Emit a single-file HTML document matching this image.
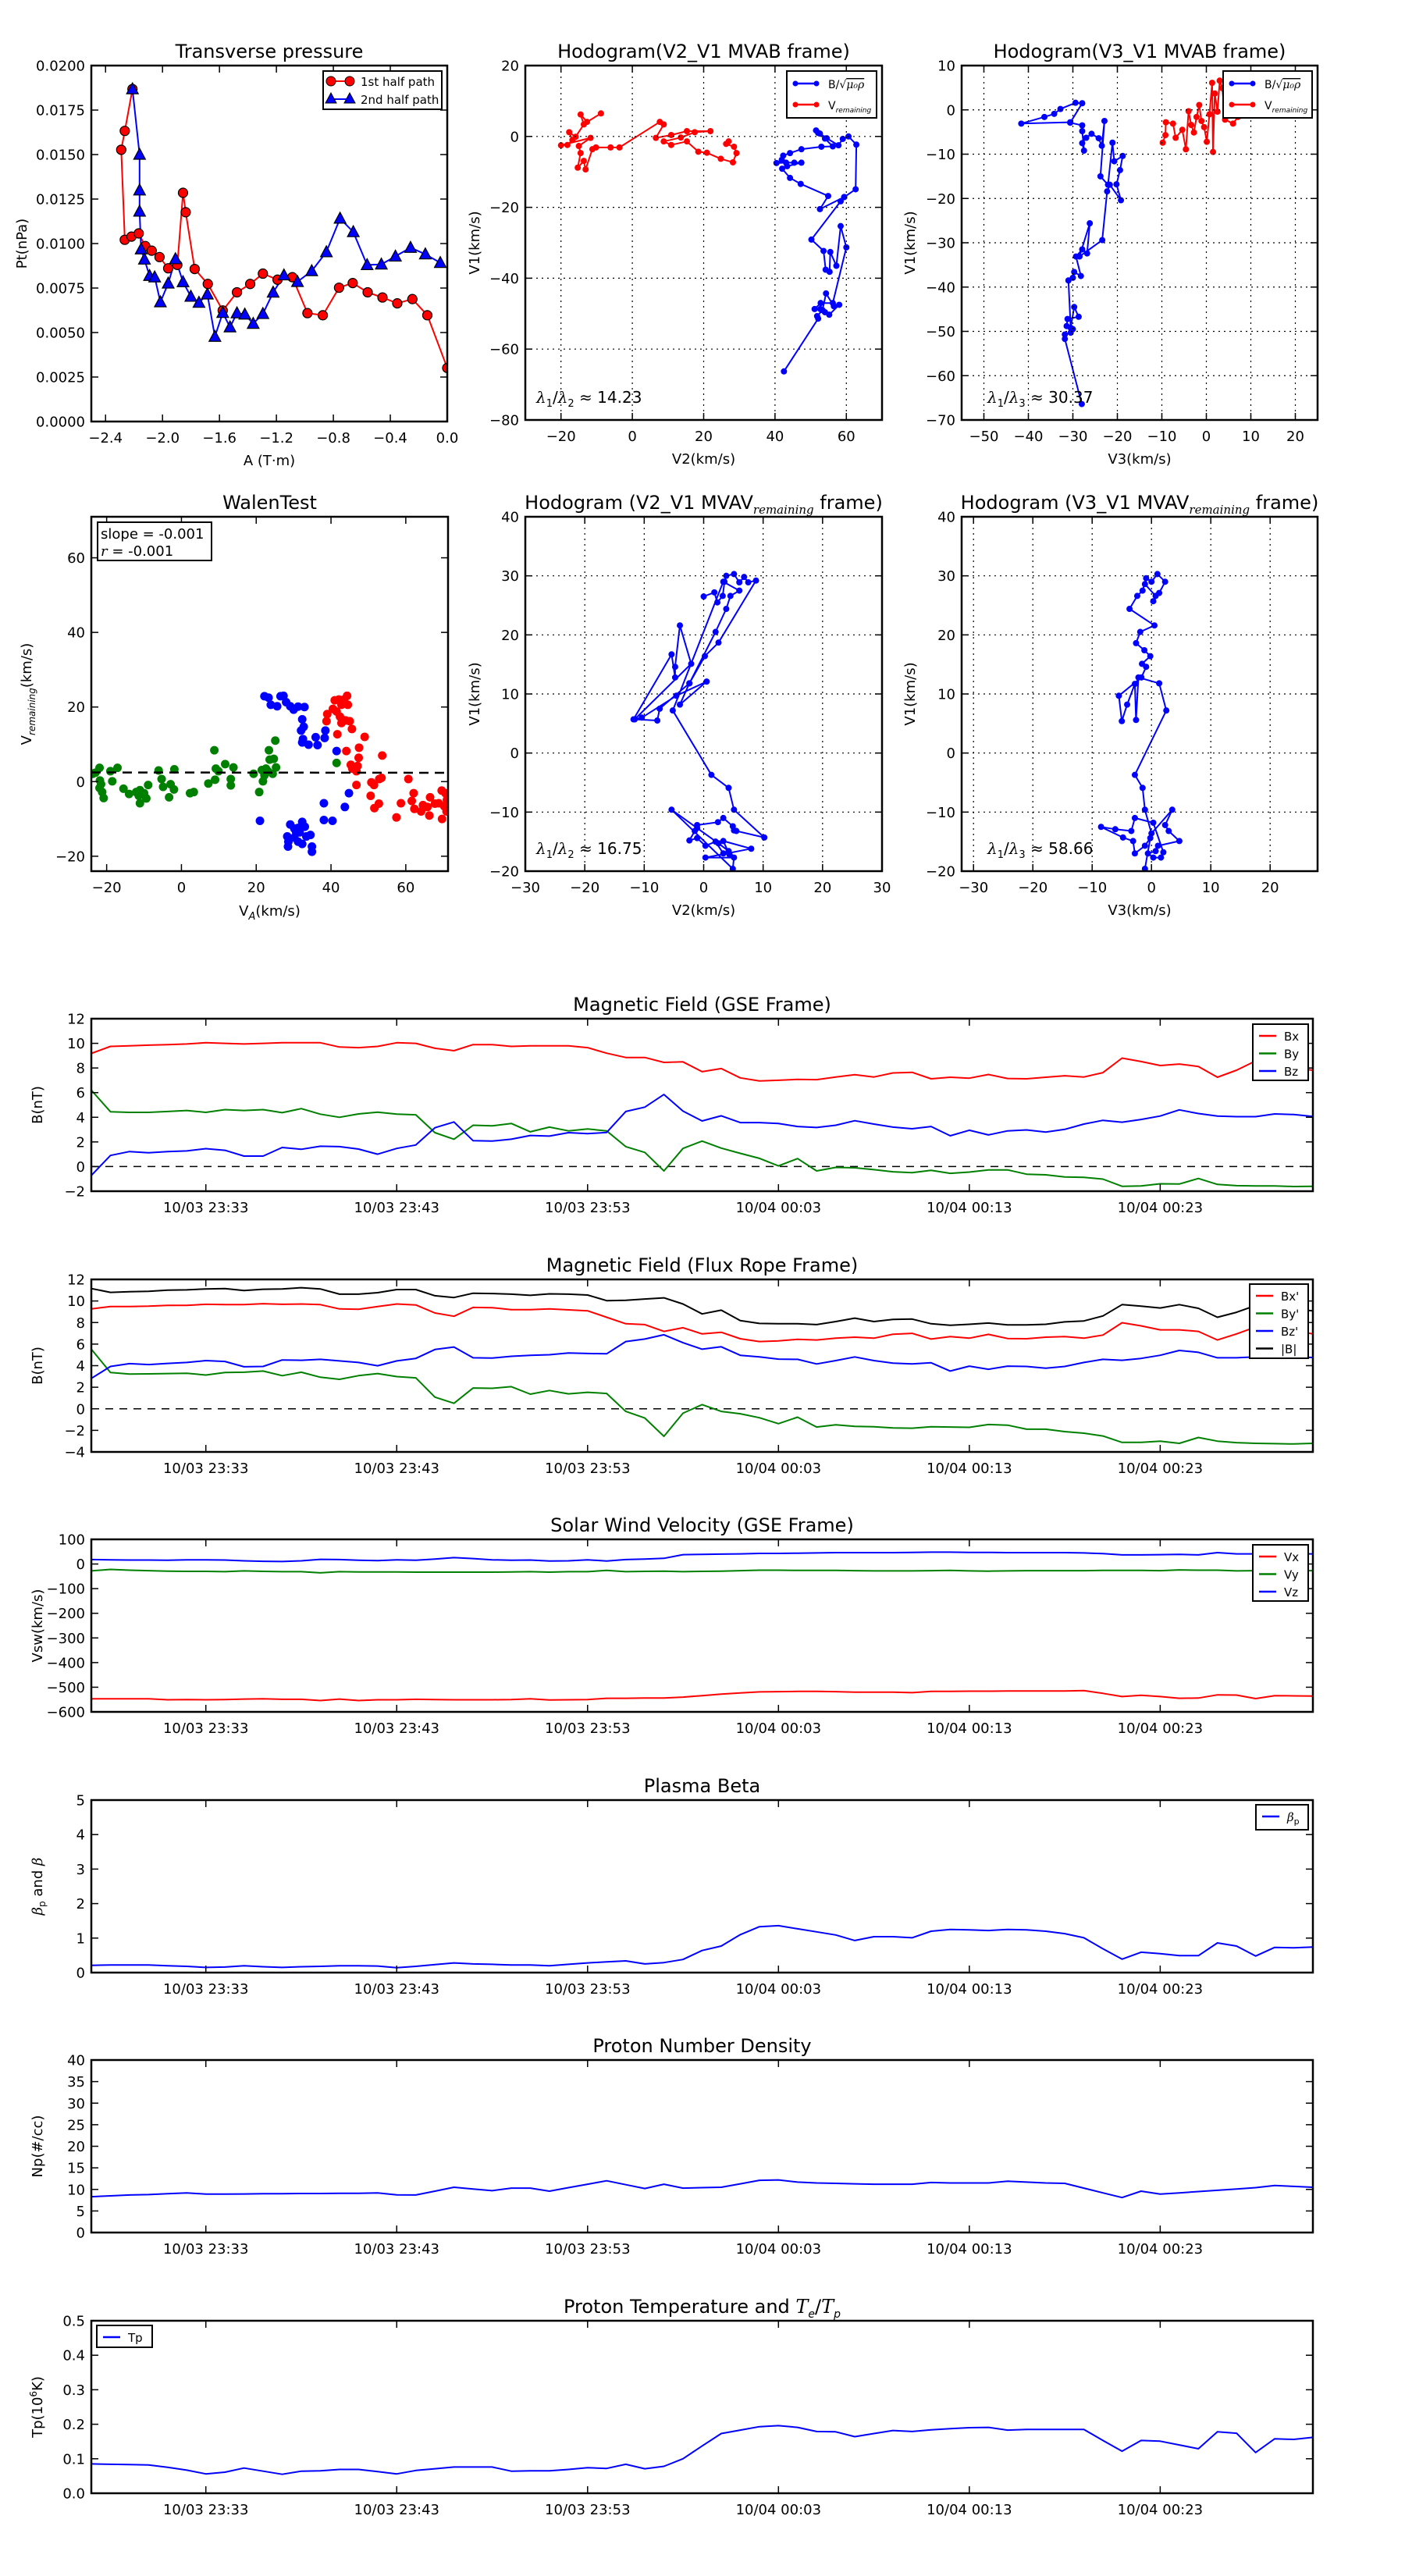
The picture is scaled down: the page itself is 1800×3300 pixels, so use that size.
<!DOCTYPE html>
<html><head><meta charset="utf-8"><title>Flux rope analysis</title>
<style>html,body{margin:0;padding:0;background:#fff}svg{display:block;font-family:"DejaVu Sans","Liberation Sans",sans-serif}</style>
</head><body>
<svg id="fig" xmlns="http://www.w3.org/2000/svg" width="1800" height="3300" viewBox="0 0 1800 3300">
<rect width="1800" height="3300" fill="#fff"/>
</svg>
<script>
// ---------- Transverse pressure ----------
const ptRedA=[-2.211,-2.265,-2.29,-2.265,-2.218,-2.167,-2.121,-2.076,-2.021,-1.960,-1.896,-1.856,-1.837,-1.774,-1.682,-1.577,-1.477,-1.384,-1.295,-1.192,-1.088,-0.982,-0.874,-0.760,-0.664,-0.559,-0.455,-0.351,-0.245,-0.140,0];
const ptRedP=[0.01868,0.01633,0.01527,0.01021,0.01039,0.01057,0.00986,0.0096,0.00924,0.00861,0.0088,0.01285,0.01176,0.00857,0.00773,0.00624,0.00726,0.00773,0.00831,0.00797,0.00811,0.00609,0.00597,0.00752,0.00778,0.00726,0.00697,0.00664,0.00688,0.00597,0.00301];
const ptBlueA=[-2.211,-2.161,-2.161,-2.161,-2.150,-2.127,-2.091,-2.055,-2.015,-1.960,-1.909,-1.856,-1.801,-1.744,-1.685,-1.632,-1.577,-1.526,-1.477,-1.422,-1.363,-1.295,-1.223,-1.147,-1.052,-0.952,-0.849,-0.753,-0.660,-0.563,-0.463,-0.364,-0.258,-0.154,-0.049];
const ptBlueP=[0.01868,0.0150,0.01299,0.0118,0.00968,0.00911,0.00819,0.00811,0.00671,0.00776,0.00913,0.00784,0.00702,0.00668,0.00715,0.00477,0.00611,0.0053,0.00609,0.00602,0.0055,0.00605,0.00725,0.00822,0.00785,0.00846,0.00952,0.01141,0.01065,0.0088,0.00883,0.00928,0.00977,0.0094,0.00892];
// ---------- Hodogram V2_V1 MVAB ----------
const h1BlueX=[42.5,52.1,51.8,53.3,54.3,56.5,58.0,55.2,54.0,52.7,51.1,52.8,56.2,60.0,58.4,57.2,55.5,55.3,54.2,53.6,50.2,58.4,59.4,62.6,62.8,60.6,59.0,57.8,54.5,52.6,51.5,52.1,54.0,56.2,53.0,47.4,44.2,42.3,41.9,40.4,43.1,45.4,47.4,43.4,42.0,44.2,47.2,54.9,52.6,59.4];
const h1BlueY=[-66.3,-51.4,-50.7,-49.0,-44.3,-47.9,-47.5,-50.3,-49.6,-48.7,-48.7,-47.0,-47.0,-31.3,-25.3,-36.5,-32.6,-38.2,-37.6,-32.3,-29.1,-18.3,-17.1,-14.9,-2.3,0,-0.7,-2.5,-0.5,0.8,1.7,1.0,-0.6,-2.8,-2.9,-3.6,-4.7,-5.4,-6.6,-7.5,-7.4,-7.4,-7.4,-8.4,-9.1,-11.7,-13.4,-16.8,-20.5,-17.1];
const h1RedX=[-8.8,-12.7,-14.5,-13.6,-15.9,-17.7,-16.8,-18.2,-20.0,-11.7,-15.0,-14.5,-15.3,-13.6,-13.1,-11.2,-10.2,-6.1,-3.6,7.7,8.8,6.6,10.9,15.3,21.9,17.5,13.6,8.8,10.9,15.3,18.5,20.9,24.8,28.2,29.2,28.5,26.3,27.0];
const h1RedY=[6.5,4.1,6.2,3.4,-0.1,1.2,-1.0,-2.4,-2.5,-0.4,-2.7,-4.7,-8.8,-6.9,-9.3,-3.6,-3.1,-3.1,-3.1,4.1,3.4,-0.4,0.4,1.5,1.5,1.2,-0.3,-1.4,-2.4,-1.4,-4.3,-4.6,-6.3,-7.3,-4.7,-2.9,-2.1,-1.4];
// ---------- Hodogram V3_V1 MVAB ----------
const h2BlueX=[-28.0,-31.8,-31.8,-30.5,-30.0,-31.4,-31.2,-28.7,-29.7,-30.5,-31.0,-30.0,-29.7,-28.2,-29.3,-27.9,-26.8,-26.2,-28.5,-23.4,-22.3,-21.7,-19.2,-20.2,-19.4,-18.8,-20.7,-21.1,-22.1,-23.8,-22.9,-23.5,-24.2,-25.8,-27.0,-27.9,-27.5,-27.9,-27.9,-30.6,-27.9,-29.4,-32.8,-34.2,-36.4,-41.6,-30.6];
const h2BlueY=[-66.4,-51.7,-50.7,-50.3,-49.5,-48.8,-47.2,-46.7,-44.5,-49.2,-38.5,-37.9,-36.6,-37.5,-33.1,-31.5,-32.4,-25.6,-33.1,-29.4,-18.4,-16.9,-20.4,-16.8,-13.6,-10.4,-11.6,-7.4,-16.9,-15.0,-2.5,-8.1,-6.4,-5.4,-6.3,-7.5,-9.2,-4.8,-3.5,-2.9,1.5,1.6,0.2,-0.9,-1.6,-3.1,-2.8];
const h2RedX=[-9.8,-9.2,-9.1,-7.5,-6.9,-5.4,-4.6,-4.0,-3.4,-2.8,-2.2,-1.6,-1.1,-0.5,0.1,0.7,1.3,1.5,1.9,2.5,3.0,3.6,4.2,6.0,7.1];
const h2RedY=[-7.4,-5.7,-2.8,-3.1,-6.3,-4.5,-8.9,-0.3,-3.4,-5.1,-1.6,1.1,-2.5,-3.9,-7.2,-1.0,6.1,-9.5,3.7,-0.4,6.6,4.9,-2.2,-3.1,-1.6];
// ---------- Walen test ----------
const wGreenX=[-23.7,-23.0,-21.9,-21.8,-21.5,-21.9,-21.2,-20.8,-19.0,-18.5,-17.1,-15.5,-14.0,-12.1,-11.4,-11.1,-11.1,-10.0,-9.4,-8.9,-6.1,-5.3,-4.9,-3.3,-2.9,-2.0,-1.9,2.3,3.3,7.2,8.8,9.0,9.2,9.9,11.7,13.2,13.2,13.9,19.3,20.8,21.5,21.8,22.2,22.6,23.1,23.4,23.6,24.4,24.7,25.3,25.1,41.5];
const wGreenY=[2.1,2.4,3.7,0.3,-0.7,-1.7,-2.8,-4.4,2.8,0.1,3.7,-1.9,-3.3,-2.8,-3.8,-2.3,-5.8,-3.1,-4.5,-0.9,3.0,0.7,-1.4,-4.2,-0.7,-2.1,3.3,-3.1,-2.8,-0.5,8.4,0.5,3.5,2.8,4.7,0.7,-1.0,3.8,2.1,-2.8,3.1,0.1,1.7,3.5,2.8,8.4,5.9,2.1,6.1,3.8,11.0,5.0];
const wBlueX=[22.2,23.3,23.9,25.6,26.5,27.3,28.0,29.1,30.0,31.2,32.9,32.3,32.7,32.0,32.5,32.3,34.0,35.9,36.4,38.3,38.5,41.5,44.8,38.1,43.7,38.1,40.4,21.0,29.1,30.2,31.2,32.3,33.0,28.3,28.6,28.5,30.2,31.2,32.3,33.4,34.5,34.9,34.9,31.6,30.7];
const wBlueY=[22.9,22.5,20.6,20.2,22.9,23.0,21.3,20.2,19.3,20.1,20.0,16.7,14.7,13.7,11.4,10.5,9.9,11.9,9.8,11.7,13.7,8.2,-3.1,-5.8,-6.8,-10.3,-10.5,-10.5,-11.5,-12.6,-12.4,-10.8,-12.1,-14.7,-16.1,-17.4,-15.0,-16.1,-16.7,-14.7,-14.3,-17.4,-18.8,-13.6,-13.6];
const wRedX=[38.8,39.0,41.0,42.1,42.8,43.5,44.3,44.5,40.5,41.5,42.4,42.8,43.9,45.0,45.6,41.7,49.0,47.5,44.1,47.4,45.3,45.7,47.1,46.8,53.7,50.8,51.5,46.8,52.9,53.5,50.6,51.6,52.8,57.5,58.7,60.7,62.1,61.6,62.3,64.1,64.6,65.8,66.3,66.5,67.8,68.8,69.6,69.7,70.3,70.6,70.9,71.0];
const wRedY=[16.2,18.1,21.8,22.0,20.6,22.0,23.0,20.6,19.5,18.8,17.4,15.7,16.4,16.2,14.1,12.7,12.0,9.1,8.2,6.4,4.5,3.5,4.2,2.8,7.0,-0.2,-0.9,-0.9,0.7,1.0,-3.8,-7.1,-5.9,-9.6,-5.8,0.7,-3.1,-5.2,-7.3,-8.0,-6.3,-6.8,-9.1,-4.2,-5.9,-5.8,-2.4,-10.0,-6.6,-3.1,-8.0,-4.9];
const walenSlope=-0.001, walenIntercept=2.44;
// ---------- Hodogram MVAV remaining ----------
const h3X=[0,1.8,2.3,3.2,3.5,3.8,5.1,6.0,6.8,7.5,8.8,2.5,0.2,-2.4,-4.0,0.5,-4.6,-10.4,-11.8,-5.4,-4.8,-4.8,-4.0,-2.1,-11.6,-7.8,-7.4,-2.4,2.0,3.8,4.5,6.0,3.3,-5.2,1.3,4.2,5.1,10.2,5.1,5.5,4.9,3.3,2.4,-1.1,-1.5,-2.4,-1.1,0.3,2.0,3.3,4.4,3.3,8.0,0.3,5.1,4.9,-5.4,-1.1,2.5,4.2];
const h3Y=[26.5,27.2,25.5,26.6,29.0,30.0,30.3,28.9,29.8,28.9,29.2,18.7,16.4,11.8,8.2,12.1,9.7,6.0,5.7,16.7,12.8,14.6,21.6,15.1,5.7,5.5,7.5,11.8,20.5,24.4,26.6,27.5,29.0,7.2,-3.7,-5.9,-9.6,-14.3,-13.1,-13.2,-12.4,-11.0,-11.7,-12.2,-13.2,-14.8,-14.4,-15.7,-15.0,-17.0,-17.3,-14.9,-16.2,-17.7,-17.7,-19.6,-9.6,-12.7,-15.3,-16.6];
const h4X=[-1.1,-0.2,-1.1,-2.8,-3.1,-4.8,-8.5,-6.1,-3.4,-2.8,0.3,2.0,1.6,0.3,-0.6,0.7,1.1,4.7,2.9,2.3,3.5,0,-1.1,-1.5,-2.8,2.5,1.3,-2.2,-2.6,-2.8,-4.1,-5.0,-5.5,-1.7,-0.9,-1.6,-0.2,-1.2,-2.6,-1.9,0.5,-3.7,-2.4,-1.5,-0.9,0,1.0,2.3,1.3,0.3,0.7,-1.1];
const h4Y=[-19.6,-14.4,-15.7,-17.0,-14.9,-14.3,-12.5,-12.9,-13.2,-11.0,-11.8,-16.8,-17.7,-17.7,-17.0,-16.6,-15.7,-14.9,-13.2,-12.2,-9.6,-13.6,-9.6,-5.9,-3.7,7.2,11.8,12.8,5.6,11.7,8.2,5.4,9.7,12.8,14.6,15.1,16.4,17.4,18.6,20.5,21.6,24.4,26.6,27.5,29.6,29.0,30.3,29.0,27.1,25.7,26.6,28.6];
// ---------- Time series (1-min samples, minute 0 = 10/03 23:27) ----------
const tickMinutes=[6,16,26,36,46,56];
const tickLabels=["10/03 23:33","10/03 23:43","10/03 23:53","10/04 00:03","10/04 00:13","10/04 00:23"];
const bx=[9.18,9.75,9.8,9.85,9.9,9.95,10.05,10,9.95,10,10.05,10.05,10.05,9.7,9.65,9.75,10.05,10.0,9.6,9.4,9.9,9.9,9.75,9.8,9.8,9.8,9.65,9.2,8.85,8.85,8.45,8.5,7.7,7.95,7.2,6.95,7.0,7.07,7.05,7.27,7.45,7.27,7.6,7.65,7.12,7.25,7.17,7.47,7.15,7.12,7.25,7.37,7.27,7.62,8.8,8.52,8.2,8.32,8.12,7.25,7.82,8.57,8.3,8.0,7.82];
const by=[6.2,4.45,4.4,4.4,4.47,4.55,4.4,4.62,4.55,4.62,4.37,4.7,4.25,4.0,4.27,4.42,4.25,4.2,2.75,2.22,3.35,3.3,3.5,2.82,3.2,2.9,3.05,2.9,1.62,1.15,-0.35,1.47,2.07,1.5,1.07,0.67,0.05,0.65,-0.35,-0.07,-0.1,-0.25,-0.42,-0.5,-0.3,-0.55,-0.45,-0.27,-0.27,-0.62,-0.67,-0.85,-0.87,-1.02,-1.6,-1.57,-1.4,-1.42,-0.97,-1.45,-1.55,-1.57,-1.57,-1.62,-1.6];
const bz=[-0.72,0.9,1.22,1.12,1.22,1.27,1.45,1.32,0.85,0.85,1.55,1.4,1.65,1.62,1.42,1.0,1.47,1.75,3.15,3.62,2.1,2.07,2.22,2.52,2.47,2.75,2.67,2.77,4.47,4.82,5.85,4.5,3.7,4.12,3.57,3.57,3.5,3.25,3.17,3.35,3.72,3.45,3.2,3.07,3.25,2.5,2.95,2.57,2.9,2.97,2.8,3.02,3.45,3.75,3.6,3.82,4.1,4.6,4.3,4.1,4.05,4.05,4.27,4.22,4.07];
const bxp=[9.26,9.49,9.49,9.52,9.6,9.6,9.69,9.66,9.66,9.75,9.69,9.72,9.66,9.26,9.23,9.49,9.72,9.63,8.89,8.58,9.4,9.38,9.2,9.2,9.26,9.18,9.09,8.49,7.89,7.81,7.18,7.52,6.95,7.1,6.5,6.24,6.3,6.44,6.38,6.55,6.64,6.55,6.92,7.0,6.47,6.7,6.55,6.9,6.52,6.5,6.64,6.7,6.55,6.84,7.98,7.69,7.32,7.32,7.18,6.38,6.95,7.58,7.8,7.24,6.95];
const byp=[5.53,3.36,3.22,3.24,3.27,3.3,3.13,3.36,3.39,3.5,3.07,3.39,2.93,2.73,3.07,3.27,2.99,2.87,1.08,0.51,1.93,1.9,2.05,1.36,1.7,1.39,1.53,1.42,-0.24,-0.86,-2.55,-0.41,0.39,-0.24,-0.46,-0.83,-1.38,-0.78,-1.69,-1.49,-1.63,-1.66,-1.78,-1.8,-1.66,-1.69,-1.72,-1.46,-1.52,-1.89,-1.89,-2.12,-2.26,-2.52,-3.12,-3.12,-3.0,-3.2,-2.66,-3.0,-3.14,-3.2,-3.23,-3.26,-3.2];
const bzp=[2.82,3.93,4.19,4.1,4.21,4.3,4.47,4.39,3.9,3.93,4.53,4.5,4.59,4.44,4.3,3.99,4.44,4.67,5.5,5.73,4.73,4.7,4.87,4.96,5.01,5.18,5.13,5.1,6.24,6.47,6.87,6.13,5.53,5.75,4.96,4.81,4.61,4.59,4.16,4.47,4.81,4.47,4.24,4.16,4.27,3.5,3.96,3.67,3.96,3.93,3.76,3.93,4.3,4.59,4.5,4.67,4.96,5.41,5.24,4.73,4.73,4.81,4.87,4.81,4.76];
const bmag=[11.15,10.8,10.86,10.89,11.0,11.03,11.12,11.15,10.97,11.09,11.12,11.23,11.12,10.63,10.63,10.77,11.06,11.06,10.49,10.32,10.72,10.69,10.63,10.52,10.66,10.63,10.55,10.03,10.06,10.18,10.29,9.72,8.8,9.15,8.18,7.92,7.89,7.89,7.81,8.09,8.41,8.09,8.29,8.32,7.89,7.75,7.84,7.95,7.78,7.78,7.84,8.06,8.15,8.61,9.66,9.52,9.35,9.66,9.32,8.49,8.95,9.58,9.8,9.23,9.09];
const vx=[-547,-547,-547,-547,-551,-550,-551,-550,-548,-547,-549,-549,-554,-548,-554,-551,-551,-549,-550,-551,-551,-551,-550,-547,-552,-551,-550,-545,-545,-544,-544,-540,-534,-528,-523,-519,-518,-517,-517,-518,-520,-520,-520,-522,-517,-517,-516,-516,-515,-515,-515,-515,-514,-525,-538,-533,-538,-545,-544,-531,-532,-546,-534,-535,-536];
const vy=[-28,-22,-25,-27,-29,-30,-30,-31,-28,-30,-31,-31,-36,-31,-32,-32,-32,-33,-33,-33,-33,-33,-32,-31,-33,-31,-31,-26,-31,-30,-29,-31,-30,-29,-27,-25,-25,-26,-26,-26,-27,-28,-28,-28,-27,-26,-28,-29,-28,-27,-27,-27,-27,-26,-26,-26,-27,-24,-25,-25,-28,-27,-27,-27,-27];
const vz=[18,17,16,16,15,17,17,16,13,11,10,13,19,18,15,14,17,15,20,26,22,17,15,16,12,13,17,12,18,20,23,38,39,40,41,43,43,44,45,46,46,46,46,47,48,48,47,47,46,46,46,46,45,42,37,37,38,39,37,46,41,41,41,41,41];
const betaP=[0.21,0.22,0.22,0.22,0.2,0.18,0.15,0.16,0.2,0.17,0.15,0.17,0.18,0.2,0.2,0.19,0.14,0.18,0.23,0.28,0.25,0.24,0.22,0.22,0.2,0.24,0.28,0.31,0.34,0.25,0.29,0.38,0.64,0.77,1.1,1.33,1.36,1.27,1.18,1.09,0.93,1.04,1.04,1.01,1.2,1.25,1.24,1.22,1.25,1.24,1.2,1.13,1.01,0.69,0.39,0.59,0.55,0.49,0.49,0.86,0.77,0.48,0.73,0.72,0.74];
const np=[8.3,8.5,8.7,8.8,9.0,9.2,8.9,8.9,8.95,9.0,9.0,9.05,9.05,9.1,9.1,9.2,8.75,8.7,9.6,10.5,10.1,9.7,10.3,10.3,9.6,10.4,11.2,12.0,11.1,10.2,11.2,10.3,10.4,10.5,11.3,12.1,12.2,11.7,11.5,11.4,11.3,11.2,11.2,11.2,11.6,11.5,11.5,11.5,11.9,11.7,11.5,11.4,10.3,9.2,8.1,9.6,8.9,9.2,9.5,9.8,10.1,10.4,10.9,10.7,10.5];
const tp=[0.085,0.084,0.083,0.082,0.075,0.067,0.056,0.061,0.073,0.064,0.055,0.064,0.065,0.069,0.069,0.063,0.056,0.066,0.071,0.076,0.076,0.076,0.064,0.065,0.065,0.069,0.074,0.072,0.084,0.071,0.078,0.1,0.137,0.173,0.183,0.193,0.196,0.191,0.179,0.178,0.164,0.173,0.182,0.179,0.184,0.187,0.19,0.191,0.183,0.185,0.185,0.185,0.185,0.153,0.122,0.153,0.151,0.14,0.129,0.178,0.174,0.118,0.158,0.156,0.162];

const NS="http://www.w3.org/2000/svg";
const svg=document.getElementById('fig');
function mk(tag,attrs,parent){const e=document.createElementNS(NS,tag);for(const k in attrs)e.setAttribute(k,attrs[k]);(parent||svg).appendChild(e);return e;}
function fmtNum(v,d){let s=v.toFixed(d);if(Math.abs(v)<1e-9)s=(0).toFixed(d);return s.replace('-','\u2212');}

function makeAxes(name,x0,x1,y0,y1,xlim,ylim){
  const g=mk('g',{});
  
  
  const sx=v=>x0+(v-xlim[0])/(xlim[1]-xlim[0])*(x1-x0);
  const sy=v=>y1-(v-ylim[0])/(ylim[1]-ylim[0])*(y1-y0);
  const clipId='clip-'+name;
  const cp=mk('clipPath',{id:clipId},g);
  mk('rect',{x:x0,y:y0,width:x1-x0,height:y1-y0},cp);
  const plot=mk('g',{'clip-path':'url(#'+clipId+')'},g);
  
  
  return {g,plot,sx,sy,x0,x1,y0,y1};
}
function frame(ax){
  const r=mk('rect',{x:ax.x0,y:ax.y0,width:ax.x1-ax.x0,height:ax.y1-ax.y0,fill:'none',stroke:'#000','stroke-width':2.5},ax.g);
  
  
}
function xTicks(ax,vals,labels,grid,fs){
  vals.forEach((v,i)=>{
    const x=ax.sx(v);
    if(grid){const gl=mk('line',{x1:x,x2:x,y1:ax.y0,y2:ax.y1,stroke:'#000','stroke-width':1.2,'stroke-dasharray':'2,5'},ax.g);
      
      }
    const t1=mk('line',{x1:x,x2:x,y1:ax.y1,y2:ax.y1-9,stroke:'#000','stroke-width':1.5},ax.g);
    
    
    const t2=mk('line',{x1:x,x2:x,y1:ax.y0,y2:ax.y0+9,stroke:'#000','stroke-width':1.5},ax.g);
    
    
    const tx=mk('text',{x:x,y:ax.y1+27,'text-anchor':'middle','font-size':fs||18},ax.g);
    tx.textContent=labels[i];
    
    
  });
}
function yTicks(ax,vals,labels,grid){
  vals.forEach((v,i)=>{
    const y=ax.sy(v);
    if(grid){const gl=mk('line',{x1:ax.x0,x2:ax.x1,y1:y,y2:y,stroke:'#000','stroke-width':1.2,'stroke-dasharray':'2,5'},ax.g);
      
      }
    const t1=mk('line',{x1:ax.x0,x2:ax.x0+9,y1:y,y2:y,stroke:'#000','stroke-width':1.5},ax.g);
    
    
    const t2=mk('line',{x1:ax.x1,x2:ax.x1-9,y1:y,y2:y,stroke:'#000','stroke-width':1.5},ax.g);
    
    
    const tx=mk('text',{x:ax.x0-8,y:y+6.5,'text-anchor':'end','font-size':18},ax.g);
    tx.textContent=labels[i];
    
    
  });
}
function title(ax,html,y){
  const t=mk('text',{x:(ax.x0+ax.x1)/2,y:y,'text-anchor':'middle','font-size':24},ax.g);
  t.innerHTML=html;
  
  
}
function xlabel(ax,html,dy){
  const t=mk('text',{x:(ax.x0+ax.x1)/2,y:ax.y1+(dy||56),'text-anchor':'middle','font-size':18},ax.g);
  t.innerHTML=html;
  
  
}
function ylabel(ax,html,x){
  const cy=(ax.y0+ax.y1)/2;
  const t=mk('text',{x:x,y:cy,'text-anchor':'middle','font-size':18,transform:'rotate(-90 '+x+' '+cy+')'},ax.g);
  t.innerHTML=html;
  
  
}
function polyline(ax,xs,ys,color,w,name){
  const pts=xs.map((v,i)=>ax.sx(v).toFixed(1)+','+ax.sy(ys[i]).toFixed(1)).join(' ');
  const p=mk('polyline',{points:pts,fill:'none',stroke:color,'stroke-width':w,'stroke-linejoin':'round'},ax.plot);
  
  
}
function dots(ax,xs,ys,color,r,stroke,name){
  xs.forEach((v,i)=>{
    const c=mk('circle',{cx:ax.sx(v),cy:ax.sy(ys[i]),r:r,fill:color,stroke:stroke||'none','stroke-width':1.2},ax.plot);
    
    
  });
}
function tris(ax,xs,ys,color,name){
  xs.forEach((v,i)=>{
    const x=ax.sx(v),y=ax.sy(ys[i]);
    const p=mk('polygon',{points:`${x},${y-8} ${x-7.5},${y+6} ${x+7.5},${y+6}`,fill:color,stroke:'#000','stroke-width':1.2},ax.plot);
    
    
  });
}
function legendBox(ax,x,y,w,h){
  const r=mk('rect',{x:x,y:y,width:w,height:h,fill:'#fff',stroke:'#000','stroke-width':2},ax.g);
  
  
}
function legendLine(ax,x,y,color,html,fs,mark,sw,gap){
  sw=sw||33;gap=gap||45;
  const l=mk('line',{x1:x,x2:x+sw,y1:y,y2:y,stroke:color,'stroke-width':2.5},ax.g);
  
  
  if(mark==='dot'){[x+3,x+sw-3].forEach(cx=>{const c=mk('circle',{cx:cx,cy:y,r:3.5,fill:color},ax.g);
    
    });}
  const t=mk('text',{x:x+gap,y:y+6,'font-size':fs||16},ax.g);
  t.innerHTML=html;
  
  
}
function range(a,b,s){const r=[];for(let v=a;v<=b+1e-9;v+=s)r.push(+v.toFixed(6));return r;}
function annot(ax,x,y,html){
  const t=mk('text',{x:x,y:y,'font-size':20},ax.g);
  t.innerHTML=html;
  
  
}
const lam=(a,b,v)=>`<tspan font-style="italic" font-family="DejaVu Serif">λ</tspan><tspan font-size="13" dy="5">${a}</tspan><tspan dy="-5">/</tspan><tspan font-style="italic" font-family="DejaVu Serif">λ</tspan><tspan font-size="13" dy="5">${b}</tspan><tspan dy="-5"> ≈ ${v}</tspan>`;
const rem='<tspan font-style="italic" font-family="DejaVu Serif" font-size="15" dy="6">remaining</tspan><tspan dy="-6"> </tspan>';

// ===== Panel 1 =====
{const ax=makeAxes('transverse-pressure',117,573,84,540,[-2.5,0],[0,0.02]);
polyline(ax,ptRedA,ptRedP,'#ff0000',2,'first-half-line');
polyline(ax,ptBlueA,ptBlueP,'#0000ff',2,'second-half-line');
dots(ax,ptRedA,ptRedP,'#ff0000',6,'#000','first-half-point');
tris(ax,ptBlueA,ptBlueP,'#0000ff','second-half-point');
const xv=range(-2.4,0,0.4);xTicks(ax,xv,xv.map(v=>fmtNum(v,1)));
const yv=range(0,0.02,0.0025);yTicks(ax,yv,yv.map(v=>v.toFixed(4)));
frame(ax);title(ax,'Transverse pressure',74);xlabel(ax,'A (T·m)');ylabel(ax,'Pt(nPa)',34);
legendBox(ax,414,91,152,49);
const l1=mk('line',{x1:420,x2:452,y1:104,y2:104,stroke:'#ff0000','stroke-width':2},ax.g);
[424,448].forEach(cx=>{const c=mk('circle',{cx:cx,cy:104,r:6,fill:'#ff0000',stroke:'#000'},ax.g);});
const l2=mk('line',{x1:420,x2:452,y1:127,y2:127,stroke:'#0000ff','stroke-width':2},ax.g);
[424,448].forEach(cx=>{const p=mk('polygon',{points:`${cx},${119} ${cx-7},${132} ${cx+7},${132}`,fill:'#0000ff',stroke:'#000'},ax.g);});
const a=mk('text',{x:462,y:110,'font-size':15},ax.g);a.textContent='1st half path';
const b=mk('text',{x:462,y:133,'font-size':15},ax.g);b.textContent='2nd half path';}

// ===== Panel 2 =====
{const ax=makeAxes('hodogram-v2-v1-mvab',673,1130,84,538,[-30,70],[-80,20]);
const xv=[-20,0,20,40,60];xTicks(ax,xv,xv.map(v=>fmtNum(v,0)),true);
const yv=range(-80,20,20);yTicks(ax,yv,yv.map(v=>fmtNum(v,0)),true);
polyline(ax,h1BlueX,h1BlueY,'#0000ff',2,'b-alfven-line');dots(ax,h1BlueX,h1BlueY,'#0000ff',4,null,'b-alfven-point');
polyline(ax,h1RedX,h1RedY,'#ff0000',2,'v-remaining-line');dots(ax,h1RedX,h1RedY,'#ff0000',4,null,'v-remaining-point');
frame(ax);title(ax,'Hodogram(V2_V1 MVAB frame)',74);xlabel(ax,'V2(km/s)');ylabel(ax,'V1(km/s)',614);
legendBox(ax,1008,91,115,60);
legendLine(ax,1016,107,'#0000ff','B/√<tspan text-decoration="overline" font-style="italic" font-family="DejaVu Serif">μ₀ρ</tspan>',14,'dot');
legendLine(ax,1016,134,'#ff0000','V<tspan font-size="9" dy="4" font-style="italic">remaining</tspan>',14,'dot');
annot(ax,687,516,lam(1,2,'14.23'));}

// ===== Panel 3 =====
{const ax=makeAxes('hodogram-v3-v1-mvab',1232,1688,84,538,[-55,25],[-70,10]);
const xv=range(-50,20,10);xTicks(ax,xv,xv.map(v=>fmtNum(v,0)),true);
const yv=range(-70,10,10);yTicks(ax,yv,yv.map(v=>fmtNum(v,0)),true);
polyline(ax,h2BlueX,h2BlueY,'#0000ff',2,'b-alfven-line');dots(ax,h2BlueX,h2BlueY,'#0000ff',4,null,'b-alfven-point');
polyline(ax,h2RedX,h2RedY,'#ff0000',2,'v-remaining-line');dots(ax,h2RedX,h2RedY,'#ff0000',4,null,'v-remaining-point');
frame(ax);title(ax,'Hodogram(V3_V1 MVAB frame)',74);xlabel(ax,'V3(km/s)');ylabel(ax,'V1(km/s)',1172);
legendBox(ax,1567,91,114,60);
legendLine(ax,1575,107,'#0000ff','B/√<tspan text-decoration="overline" font-style="italic" font-family="DejaVu Serif">μ₀ρ</tspan>',14,'dot');
legendLine(ax,1575,134,'#ff0000','V<tspan font-size="9" dy="4" font-style="italic">remaining</tspan>',14,'dot');
annot(ax,1265,516,lam(1,3,'30.37'));}

// ===== Panel 4 Walen =====
{const ax=makeAxes('walen-test',117,574,662,1116,[-24.1,71.3],[-24,71]);
dots(ax,wGreenX,wGreenY,'#008000',5.5,null,'walen-point-green');
dots(ax,wBlueX,wBlueY,'#0000ff',5.5,null,'walen-point-blue');
dots(ax,wRedX,wRedY,'#ff0000',5.5,null,'walen-point-red');
const fx=[-24.1,71.3];const fy=fx.map(v=>walenSlope*v+walenIntercept);
const pl=mk('line',{x1:ax.sx(fx[0]),x2:ax.sx(fx[1]),y1:ax.sy(fy[0]),y2:ax.sy(fy[1]),stroke:'#000','stroke-width':2.5,'stroke-dasharray':'12,8'},ax.plot);

const xv=[-20,0,20,40,60];xTicks(ax,xv,xv.map(v=>fmtNum(v,0)));
const yv=[-20,0,20,40,60];yTicks(ax,yv,yv.map(v=>fmtNum(v,0)));
frame(ax);title(ax,'WalenTest',652);
xlabel(ax,'V<tspan font-size="13" dy="5" font-style="italic">A</tspan><tspan dy="-5">(km/s)</tspan>',57);
ylabel(ax,'V<tspan font-size="12" dy="5" font-style="italic">remaining</tspan><tspan dy="-5">(km/s)</tspan>',40);
legendBox(ax,125,669,146,49);
const s1=mk('text',{x:129,y:690,'font-size':18},ax.g);s1.textContent='slope = -0.001';
const s2=mk('text',{x:129,y:712,'font-size':18},ax.g);s2.innerHTML='<tspan font-style="italic" font-family="DejaVu Serif">r</tspan> = -0.001';}

// ===== Panel 5 =====
{const ax=makeAxes('hodogram-v2-v1-mvav',673,1130,662,1116,[-30,30],[-20,40]);
const xv=range(-30,30,10);xTicks(ax,xv,xv.map(v=>fmtNum(v,0)),true);
const yv=range(-20,40,10);yTicks(ax,yv,yv.map(v=>fmtNum(v,0)),true);
polyline(ax,h3X,h3Y,'#0000ff',2,'hodogram-line');dots(ax,h3X,h3Y,'#0000ff',4,null,'hodogram-point');
frame(ax);title(ax,'Hodogram (V2_V1 MVAV'+rem+'frame)',652);xlabel(ax,'V2(km/s)');ylabel(ax,'V1(km/s)',614);
annot(ax,687,1094,lam(1,2,'16.75'));}

// ===== Panel 6 =====
{const ax=makeAxes('hodogram-v3-v1-mvav',1232,1688,662,1116,[-32,28],[-20,40]);
const xv=range(-30,20,10);xTicks(ax,xv,xv.map(v=>fmtNum(v,0)),true);
const yv=range(-20,40,10);yTicks(ax,yv,yv.map(v=>fmtNum(v,0)),true);
polyline(ax,h4X,h4Y,'#0000ff',2,'hodogram-line');dots(ax,h4X,h4Y,'#0000ff',4,null,'hodogram-point');
frame(ax);title(ax,'Hodogram (V3_V1 MVAV'+rem+'frame)',652);xlabel(ax,'V3(km/s)');ylabel(ax,'V1(km/s)',1172);
annot(ax,1265,1094,lam(1,3,'58.66'));}

// ===== Time series panels =====
const mins=bx.map((_,i)=>i);
function tsPanel(name,top,ylim,ystep,ydec,ttl,ylab,series,legend,zeroLine){
  const ax=makeAxes(name,117,1682,top,top+221,[0,64],ylim);
  if(zeroLine){const z=mk('line',{x1:ax.x0,x2:ax.x1,y1:ax.sy(0),y2:ax.sy(0),stroke:'#000','stroke-width':1.5,'stroke-dasharray':'10,8'},ax.plot);
    }
  series.forEach(s=>polyline(ax,mins,s.d,s.c,2,s.n));
  xTicks(ax,tickMinutes,tickLabels,false,18);
  const yv=range(ylim[0],ylim[1],ystep);yTicks(ax,yv,yv.map(v=>fmtNum(v,ydec)));
  frame(ax);title(ax,ttl,top-10);ylabel(ax,ylab,54);
  if(legend){legendBox(ax,legend.x,legend.y,legend.w,legend.h);
    series.forEach((s,i)=>legendLine(ax,legend.x+8,legend.y+15+i*22.5,s.c,s.l,15,null,22,32));}
  return ax;
}
tsPanel('magnetic-field-gse',1305,[-2,12],2,0,'Magnetic Field (GSE Frame)','B(nT)',
  [{d:bx,c:'#ff0000',n:'bx-line',l:'Bx'},{d:by,c:'#008000',n:'by-line',l:'By'},{d:bz,c:'#0000ff',n:'bz-line',l:'Bz'}],
  {x:1605,y:1312,w:71,h:72},true);
tsPanel('magnetic-field-flux-rope',1639,[-4,12],2,0,'Magnetic Field (Flux Rope Frame)','B(nT)',
  [{d:bxp,c:'#ff0000',n:'bx-prime-line',l:"Bx'"},{d:byp,c:'#008000',n:'by-prime-line',l:"By'"},{d:bzp,c:'#0000ff',n:'bz-prime-line',l:"Bz'"},{d:bmag,c:'#000000',n:'b-magnitude-line',l:'|B|'}],
  {x:1601,y:1645,w:75,h:95},true);
tsPanel('solar-wind-velocity',1972,[-600,100],100,0,'Solar Wind Velocity (GSE Frame)','Vsw(km/s)',
  [{d:vx,c:'#ff0000',n:'vx-line',l:'Vx'},{d:vy,c:'#008000',n:'vy-line',l:'Vy'},{d:vz,c:'#0000ff',n:'vz-line',l:'Vz'}],
  {x:1605,y:1979,w:71,h:72},false);
tsPanel('plasma-beta',2306,[0,5],1,0,'Plasma Beta','<tspan font-style="italic" font-family="DejaVu Serif">β</tspan><tspan font-size="12" dy="4">p</tspan><tspan dy="-4"> and </tspan><tspan font-style="italic" font-family="DejaVu Serif">β</tspan>',
  [{d:betaP,c:'#0000ff',n:'beta-p-line',l:'<tspan font-style="italic" font-family="DejaVu Serif">β</tspan><tspan font-size="11" dy="4">p</tspan>'}],
  {x:1609,y:2312,w:67,h:32},false);
tsPanel('proton-number-density',2639,[0,40],5,0,'Proton Number Density','Np(#/cc)',
  [{d:np,c:'#0000ff',n:'np-line',l:'Np'}],null,false);
tsPanel('proton-temperature',2973,[0,0.5],0.1,1,'Proton Temperature and <tspan font-style="italic" font-family="DejaVu Serif">T</tspan><tspan font-size="14" dy="6" font-style="italic">e</tspan><tspan dy="-6">/</tspan><tspan font-style="italic" font-family="DejaVu Serif">T</tspan><tspan font-size="14" dy="6" font-style="italic">p</tspan>','Tp(10<tspan font-size="12" dy="-7">6</tspan><tspan dy="7">K)</tspan>',
  [{d:tp,c:'#0000ff',n:'tp-line',l:'Tp'}],{x:124,y:2979,w:71,h:28},false);
</script>
</body></html>
